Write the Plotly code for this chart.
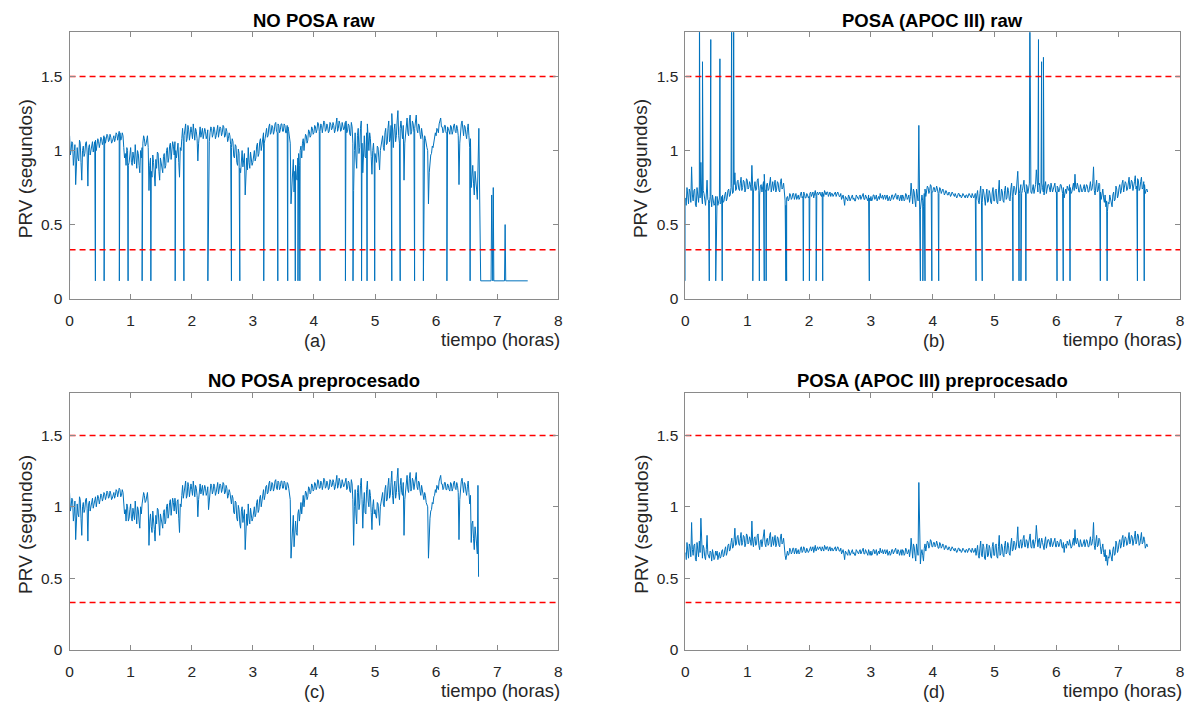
import numpy as np
import plotly.graph_objects as go

# ---------------- data ----------------
SAMPLE_STEP_H = 0.025          # spacing of the read samples (hours)
DROP_LEVEL = 0.12              # level of the raw dropouts
THRESH_HIGH = 1.5
THRESH_LOW = 0.33
X_TICKS = [0, 1, 2, 3, 4, 5, 6, 7, 8]
Y_TICKS = [0, 0.5, 1, 1.5]
Y_TICK_LABELS = ["0", "0.5", "1", "1.5"]

# NO POSA, preprocessed signal (seconds), one value every SAMPLE_STEP_H from t=0
noposa_clean = [
    1.10, 1.00, 1.05, 0.95, 0.77, 1.02, 0.93, 1.05, 0.80, 1.03, 0.98, 1.06, 0.76, 1.04, 1.00, 1.06, 1.02, 1.07, 1.03, 1.06,
    1.05, 1.08, 1.06, 1.09, 1.07, 1.10, 1.07, 1.09, 1.06, 1.10, 1.08, 1.11, 1.09, 1.12, 1.08, 1.10, 0.95, 0.90, 1.00, 0.92,
    1.02, 0.90, 0.96, 1.04, 0.88, 0.98, 0.85, 0.95, 1.05, 1.08, 1.04, 1.10, 0.73, 0.95, 0.82, 0.92, 0.76, 0.88, 0.98, 0.80,
    0.92, 0.85, 0.98, 0.90, 1.02, 0.95, 1.05, 0.98, 1.03, 1.06, 0.95, 1.05, 0.82, 1.00, 1.15, 1.10, 1.18, 1.08, 1.14, 1.10,
    1.12, 1.18, 1.07, 1.13, 0.93, 1.12, 1.09, 1.15, 1.11, 1.13, 1.10, 0.98, 1.12, 1.15, 1.11, 1.14, 1.10, 1.17, 1.12, 1.15,
    1.12, 1.16, 1.10, 1.13, 1.08, 1.10, 1.02, 1.06, 0.95, 1.03, 0.90, 0.98, 0.85, 1.00, 0.92, 0.70, 0.95, 1.02, 0.88, 0.96,
    0.92, 1.00, 0.95, 1.05, 0.98, 1.08, 1.04, 1.12, 1.08, 1.15, 1.10, 1.18, 1.12, 1.16, 1.13, 1.19, 1.12, 1.17, 1.14, 1.18,
    1.13, 1.17, 1.12, 1.16, 1.10, 0.64, 0.85, 0.72, 0.90, 0.80, 0.98, 1.00, 0.95, 1.08, 1.04, 1.10, 1.07, 1.13, 1.10, 1.15,
    1.12, 1.16, 1.14, 1.18, 1.13, 1.17, 1.15, 1.19, 1.14, 1.16, 1.13, 1.18, 1.15, 1.17, 1.14, 1.22, 1.15, 1.18, 1.14, 1.17,
    1.15, 1.20, 1.13, 1.17, 1.10, 1.16, 0.73, 1.12, 0.88, 1.15, 1.02, 1.20, 0.85, 1.10, 0.95, 1.18, 1.00, 1.08, 0.84, 1.05,
    0.98, 0.92, 1.02, 0.87, 1.05, 1.10, 1.00, 1.15, 1.05, 1.20, 1.08, 1.25, 1.02, 1.18, 1.10, 1.27, 1.05, 1.20, 1.08, 0.80,
    1.12, 1.22, 1.10, 1.24, 1.13, 1.18, 1.15, 1.24, 1.12, 1.17, 1.08, 1.12, 1.05, 1.08, 1.02, 0.64, 0.92, 0.98, 1.02, 1.08,
    1.10, 1.14, 1.18, 1.22, 1.16, 1.13, 1.17, 1.12, 1.15, 1.11, 1.16, 1.13, 1.18, 1.12, 1.15, 0.77, 1.14, 1.20, 1.10, 1.16,
    1.08, 1.18, 1.02, 0.75, 0.90, 0.70, 0.82, 0.67,
]
# NO POSA, values read half-way between consecutive samples above
noposa_clean_mid = [
    0.97, 1.06, 0.90, 1.04, 0.98, 0.95, 1.07, 0.92, 1.00, 0.96, 1.05, 0.99, 1.02, 0.97, 1.05, 0.99, 1.06, 1.00, 1.08, 1.02,
    1.09, 1.04, 1.10, 1.05, 1.11, 1.06, 1.11, 1.05, 1.09, 1.06, 1.12, 1.07, 1.13, 1.07, 1.12, 1.02, 0.98, 1.02, 0.90, 0.98,
    0.92, 0.99, 0.91, 0.94, 1.00, 0.90, 1.00, 1.02, 1.10, 1.03, 1.09, 1.02, 0.90, 0.86, 0.97, 0.84, 0.94, 0.99, 0.86, 0.95,
    0.86, 0.96, 0.88, 1.00, 0.92, 1.03, 0.94, 1.06, 0.97, 1.00, 1.04, 0.92, 1.02, 1.08, 1.06, 1.16, 1.06, 1.17, 1.07, 1.16,
    1.08, 1.10, 1.15, 1.08, 1.05, 1.16, 1.13, 1.08, 1.15, 1.08, 1.14, 1.06, 1.16, 1.09, 1.16, 1.08, 1.15, 1.09, 1.16, 1.10,
    1.17, 1.09, 1.15, 1.06, 1.12, 1.04, 1.08, 0.96, 1.04, 0.92, 1.01, 0.88, 0.97, 0.89, 0.98, 0.92, 0.87, 0.92, 0.99, 0.90,
    0.99, 0.93, 1.03, 0.96, 1.06, 1.00, 1.10, 1.05, 1.14, 1.09, 1.16, 1.11, 1.17, 1.11, 1.18, 1.13, 1.18, 1.12, 1.18, 1.13,
    1.18, 1.12, 1.17, 1.13, 1.05, 0.78, 0.94, 0.86, 0.82, 0.95, 0.90, 1.03, 1.05, 1.00, 1.11, 1.05, 1.14, 1.09, 1.16, 1.11,
    1.17, 1.12, 1.19, 1.13, 1.18, 1.12, 1.20, 1.13, 1.18, 1.12, 1.19, 1.14, 1.19, 1.12, 1.18, 1.13, 1.20, 1.13, 1.19, 1.14,
    1.19, 1.12, 1.18, 1.11, 1.19, 1.05, 1.00, 0.95, 1.10, 0.98, 1.15, 1.05, 1.02, 0.96, 1.12, 1.04, 1.12, 0.96, 1.00, 0.95,
    0.94, 1.03, 0.95, 1.00, 1.09, 1.02, 1.12, 1.04, 1.15, 1.06, 1.17, 1.08, 1.14, 1.06, 1.20, 1.10, 1.15, 1.10, 1.17, 1.05,
    1.18, 1.12, 1.20, 1.11, 1.20, 1.12, 1.20, 1.14, 1.18, 1.11, 1.15, 1.07, 1.10, 1.03, 1.00, 0.85, 0.97, 1.03, 1.07, 1.12,
    1.15, 1.12, 1.20, 1.16, 1.12, 1.17, 1.12, 1.16, 1.12, 1.17, 1.11, 1.17, 1.13, 1.17, 1.10, 1.05, 1.18, 1.12, 1.17, 1.11,
    1.14, 1.10, 1.08, 0.88, 0.78, 0.86, 0.74,
]
# last samples of the preprocessed NO POSA record
noposa_clean_end_t = [6.685, 6.695]
noposa_clean_end_v = [1.15, 0.51]

# NO POSA raw: dropout times (hours) down to DROP_LEVEL
noposa_drop_t = [0.0, 0.423, 0.566, 0.815, 0.958, 1.188, 1.331, 1.729, 1.872, 2.264, 2.65, 2.787,
                 3.179, 3.409, 3.571, 3.695, 3.739, 3.77, 4.10, 4.516, 4.64, 4.78, 4.87, 4.995,
                 5.275, 5.412, 5.648, 5.792, 6.177, 6.557]
# NO POSA raw: tail after the signal is lost
noposa_raw_end_t = [6.70, 6.73, 6.90, 6.91, 6.92, 6.928, 6.936, 6.945, 7.12, 7.13, 7.14, 7.50]
noposa_raw_end_v = [1.15, 0.12, 0.12, 0.70, 0.12, 0.12, 0.75, 0.12, 0.12, 0.50, 0.12, 0.12]

# POSA (APOC III), preprocessed signal (seconds), one value every SAMPLE_STEP_H from t=0
posa_clean = [
    0.68, 0.75, 0.64, 0.72, 0.89, 0.66, 0.74, 0.62, 0.70, 0.76, 0.92, 0.64, 0.71, 0.63, 0.80, 0.66, 0.69, 0.62, 0.67, 0.64,
    0.66, 0.63, 0.68, 0.65, 0.70, 0.66, 0.72, 0.68, 0.74, 0.70, 0.78, 0.72, 0.85, 0.74, 0.80, 0.73, 0.82, 0.75, 0.79, 0.74,
    0.80, 0.75, 0.77, 0.90, 0.72, 0.79, 0.74, 0.81, 0.70, 0.77, 0.75, 0.84, 0.72, 0.78, 0.74, 0.82, 0.76, 0.73, 0.80, 0.74,
    0.78, 0.72, 0.81, 0.75, 0.70, 0.63, 0.69, 0.67, 0.70, 0.68, 0.71, 0.69, 0.67, 0.70, 0.68, 0.72, 0.69, 0.71, 0.68, 0.70,
    0.69, 0.72, 0.70, 0.68, 0.73, 0.71, 0.70, 0.72, 0.69, 0.71, 0.73, 0.70, 0.72, 0.71, 0.69, 0.71, 0.70, 0.72, 0.70, 0.71,
    0.69, 0.67, 0.70, 0.63, 0.68, 0.66, 0.69, 0.67, 0.70, 0.68, 0.66, 0.69, 0.67, 0.70, 0.68, 0.71, 0.67, 0.69, 0.66, 0.68,
    0.69, 0.67, 0.70, 0.68, 0.66, 0.69, 0.71, 0.68, 0.67, 0.70, 0.68, 0.66, 0.69, 0.67, 0.70, 0.68, 0.71, 0.67, 0.69, 0.68,
    0.66, 0.69, 0.67, 0.70, 0.68, 0.65, 0.78, 0.64, 0.72, 0.62, 0.70, 1.17, 0.60, 0.70, 0.62, 0.74, 0.72, 0.75, 0.73, 0.76,
    0.72, 0.75, 0.73, 0.74, 0.71, 0.74, 0.72, 0.73, 0.71, 0.72, 0.70, 0.71, 0.70, 0.71, 0.69, 0.70, 0.69, 0.71, 0.70, 0.69,
    0.70, 0.68, 0.70, 0.69, 0.70, 0.68, 0.70, 0.69, 0.66, 0.73, 0.64, 0.76, 0.65, 0.72, 0.63, 0.74, 0.66, 0.71, 0.64, 0.75,
    0.66, 0.74, 0.64, 0.80, 0.67, 0.72, 0.65, 0.76, 0.68, 0.73, 0.66, 0.78, 0.70, 0.75, 0.72, 0.86, 0.71, 0.77, 0.73, 0.80,
    0.72, 0.76, 0.74, 0.81, 0.71, 0.77, 0.73, 0.87, 0.72, 0.78, 0.74, 0.75, 0.70, 0.79, 0.73, 0.77, 0.72, 0.76, 0.74, 0.78,
    0.72, 0.75, 0.73, 0.77, 0.71, 0.68, 0.74, 0.76, 0.73, 0.75, 0.72, 0.78, 0.84, 0.74, 0.76, 0.72, 0.75, 0.73, 0.77, 0.74,
    0.76, 0.72, 0.79, 0.74, 0.89, 0.70, 0.80, 0.73, 0.77, 0.67, 0.74, 0.65, 0.62, 0.59, 0.64, 0.68, 0.62, 0.72, 0.67, 0.74,
    0.70, 0.77, 0.73, 0.80, 0.75, 0.78, 0.74, 0.82, 0.76, 0.79, 0.75, 0.83, 0.76, 0.80, 0.74, 0.82, 0.75, 0.77, 0.73, 0.72,
]
# POSA, values read half-way between consecutive samples above
posa_clean_mid = [
    0.63, 0.70, 0.74, 0.65, 0.70, 0.73, 0.63, 0.75, 0.65, 0.68, 0.70, 0.73, 0.65, 0.70, 0.67, 0.64, 0.68, 0.70, 0.63, 0.69,
    0.69, 0.67, 0.64, 0.69, 0.65, 0.70, 0.66, 0.73, 0.69, 0.75, 0.71, 0.77, 0.73, 0.79, 0.74, 0.78, 0.73, 0.80, 0.72, 0.81,
    0.74, 0.79, 0.73, 0.76, 0.78, 0.73, 0.80, 0.73, 0.76, 0.72, 0.79, 0.74, 0.77, 0.73, 0.80, 0.72, 0.79, 0.77, 0.72, 0.79,
    0.73, 0.79, 0.74, 0.78, 0.66, 0.68, 0.66, 0.71, 0.67, 0.71, 0.67, 0.71, 0.69, 0.67, 0.71, 0.68, 0.72, 0.68, 0.71, 0.68,
    0.71, 0.69, 0.72, 0.71, 0.69, 0.72, 0.71, 0.70, 0.72, 0.69, 0.71, 0.72, 0.69, 0.72, 0.71, 0.69, 0.71, 0.69, 0.72, 0.69,
    0.71, 0.69, 0.67, 0.69, 0.66, 0.70, 0.66, 0.69, 0.67, 0.66, 0.70, 0.67, 0.69, 0.67, 0.70, 0.67, 0.70, 0.67, 0.70, 0.66,
    0.66, 0.70, 0.67, 0.70, 0.68, 0.67, 0.68, 0.70, 0.69, 0.67, 0.70, 0.68, 0.66, 0.70, 0.67, 0.69, 0.68, 0.70, 0.66, 0.70,
    0.70, 0.66, 0.71, 0.67, 0.70, 0.69, 0.68, 0.74, 0.66, 0.74, 0.66, 0.72, 0.67, 0.66, 0.71, 0.69, 0.76, 0.71, 0.77, 0.72,
    0.75, 0.72, 0.76, 0.71, 0.75, 0.71, 0.74, 0.70, 0.73, 0.70, 0.72, 0.69, 0.72, 0.69, 0.71, 0.68, 0.71, 0.69, 0.68, 0.71,
    0.68, 0.70, 0.68, 0.71, 0.68, 0.71, 0.68, 0.71, 0.70, 0.66, 0.71, 0.66, 0.74, 0.64, 0.70, 0.65, 0.73, 0.65, 0.72, 0.66,
    0.73, 0.65, 0.72, 0.66, 0.74, 0.66, 0.73, 0.67, 0.75, 0.67, 0.74, 0.69, 0.76, 0.70, 0.77, 0.72, 0.76, 0.71, 0.78, 0.72,
    0.77, 0.71, 0.78, 0.72, 0.76, 0.71, 0.77, 0.73, 0.77, 0.71, 0.78, 0.72, 0.76, 0.71, 0.77, 0.73, 0.78, 0.72, 0.77, 0.72,
    0.76, 0.72, 0.77, 0.72, 0.75, 0.73, 0.71, 0.74, 0.77, 0.71, 0.76, 0.73, 0.75, 0.78, 0.72, 0.77, 0.72, 0.76, 0.72, 0.77,
    0.72, 0.77, 0.73, 0.78, 0.73, 0.76, 0.72, 0.78, 0.72, 0.71, 0.68, 0.70, 0.66, 0.65, 0.70, 0.65, 0.70, 0.66, 0.76, 0.68,
    0.75, 0.71, 0.78, 0.72, 0.79, 0.73, 0.78, 0.74, 0.80, 0.73, 0.79, 0.74, 0.81, 0.73, 0.79, 0.74, 0.79, 0.71, 0.74,
]
# POSA raw: dropout times (hours)
posa_drop_t = [0.0, 0.386, 0.49, 0.595, 1.09, 1.196, 1.275, 1.306, 1.625, 1.637, 1.907, 2.005, 2.115,
               2.22, 2.974, 3.80, 3.84, 3.875, 3.985, 4.096, 4.70, 4.80, 5.297, 5.395, 5.426, 5.506,
               6.01, 6.11, 6.22, 6.71, 6.82, 7.31, 7.42]
# POSA raw: upward artefacts (hours, seconds)
posa_spike_t = [0.227, 0.276, 0.41, 0.558, 0.748, 0.78, 5.57, 5.71, 5.76, 5.79]
posa_spike_v = [2.0, 1.60, 1.75, 1.62, 2.0, 2.0, 2.0, 1.75, 1.60, 1.63]

TITLES = ["NO POSA raw", "POSA (APOC III) raw", "NO POSA preprocesado", "POSA (APOC III) preprocesado"]
PANEL_TAGS = ["(a)", "(b)", "(c)", "(d)"]
X_LABEL = "tiempo (horas)"
Y_LABEL = "PRV (segundos)"


# ---------------- helpers ----------------
def sample_times(values):
    return np.arange(len(values)) * SAMPLE_STEP_H


def mid_times(values):
    return np.arange(len(values)) * SAMPLE_STEP_H + SAMPLE_STEP_H / 2


def merge(t_a, v_a, t_b, v_b):
    t = np.concatenate([np.asarray(t_a, float), np.asarray(t_b, float)])
    v = np.concatenate([np.asarray(v_a, float), np.asarray(v_b, float)])
    order = np.argsort(t, kind="stable")
    return t[order], v[order]


# dense preprocessed signals
t_np, v_np = merge(sample_times(noposa_clean), noposa_clean, mid_times(noposa_clean_mid), noposa_clean_mid)
t_p, v_p = merge(sample_times(posa_clean), posa_clean, mid_times(posa_clean_mid), posa_clean_mid)

# preprocessed series
t_c, v_c = merge(t_np, v_np, noposa_clean_end_t, noposa_clean_end_v)
t_d, v_d = t_p, v_p

# raw series = preprocessed samples + artefacts
t_a, v_a = merge(noposa_drop_t, [DROP_LEVEL] * len(noposa_drop_t), t_np, v_np)
t_a, v_a = merge(t_a, v_a, noposa_raw_end_t, noposa_raw_end_v)
t_b, v_b = merge(posa_drop_t + posa_spike_t, [DROP_LEVEL] * len(posa_drop_t) + posa_spike_v, t_p, v_p)

series = [(t_a, v_a), (t_b, v_b), (t_c, v_c), (t_d, v_d)]

# ---------------- layout geometry (pixels of the 1198x711 page) ----------------
W, H = 1198, 711
X_DOM_PX = [(66, 558), (686, 1184)]
Y_DOM_PX = [(32.5, 302), (397, 657)]

LINE_BLUE = "#0072BD"
AX_COL = "#8a8a8a"
TXT_COL = "#262626"
FONT = "Liberation Sans, Arial, Helvetica, sans-serif"

fig = go.Figure()
annotations = []

for k in range(4):
    row, col = divmod(k, 2)
    xd = X_DOM_PX[col]
    yd = Y_DOM_PX[row]
    sfx = "" if k == 0 else str(k + 1)
    xref, yref = "x" + sfx, "y" + sfx
    t, v = series[k]
    fig.add_trace(go.Scatter(x=t, y=v, mode="lines", line=dict(color=LINE_BLUE, width=1),
                             xaxis=xref, yaxis=yref, showlegend=False, hoverinfo="skip"))
    for thr in (THRESH_HIGH, THRESH_LOW):
        fig.add_trace(go.Scatter(x=[X_TICKS[0], X_TICKS[-1]], y=[thr, thr], mode="lines",
                                 line=dict(color="#FF0000", width=1.5, dash="6px,4px"),
                                 xaxis=xref, yaxis=yref, showlegend=False, hoverinfo="skip"))
    axis_common = dict(showgrid=False, zeroline=False, showline=True, linecolor=AX_COL, linewidth=1,
                       mirror="ticks", ticks="inside", ticklen=5, tickcolor=AX_COL, tickwidth=1,
                       tickfont=dict(family=FONT, size=15.5, color=TXT_COL))
    fig.layout["xaxis" + sfx] = dict(domain=[xd[0] / W, xd[1] / W], range=[0, 8], tickvals=X_TICKS,
                                     anchor=yref, ticklabelstandoff=8, **axis_common)
    fig.layout["yaxis" + sfx] = dict(domain=[1 - yd[1] / H, 1 - yd[0] / H], range=[0, 1.8],
                                     tickvals=Y_TICKS, ticktext=Y_TICK_LABELS, anchor=xref,
                                     ticklabelstandoff=3, **axis_common)
    xc = (xd[0] + xd[1]) / 2
    # title
    annotations.append(dict(x=xc / W, y=1 - (yd[0] - 12) / H, xref="paper", yref="paper",
                            text="<b>" + TITLES[k] + "</b>", showarrow=False, xanchor="center",
                            yanchor="middle", font=dict(family=FONT, size=18.5, color="#000000")))
    # panel tag
    annotations.append(dict(x=(xc + 1) / W, y=1 - (yd[1] + 43) / H, xref="paper", yref="paper",
                            text=PANEL_TAGS[k], showarrow=False, xanchor="center", yanchor="middle",
                            font=dict(family=FONT, size=18, color=TXT_COL)))
    # x label
    annotations.append(dict(x=(xd[1] + 4) / W, y=1 - (yd[1] + 41) / H, xref="paper", yref="paper",
                            text=X_LABEL, showarrow=False, xanchor="right", yanchor="middle",
                            font=dict(family=FONT, size=18.5, color=TXT_COL)))
    # y label
    annotations.append(dict(x=(xd[0] - 45) / W, y=1 - ((yd[0] + yd[1]) / 2 + 3) / H, xref="paper",
                            yref="paper", text=Y_LABEL, showarrow=False, textangle=-90,
                            xanchor="center", yanchor="middle",
                            font=dict(family=FONT, size=19, color=TXT_COL)))

fig.update_layout(width=W, height=H, margin=dict(l=0, r=0, t=0, b=0), autosize=False,
                  paper_bgcolor="white", plot_bgcolor="white", annotations=annotations,
                  font=dict(family=FONT, color=TXT_COL))

fig.write_html("out.html")
